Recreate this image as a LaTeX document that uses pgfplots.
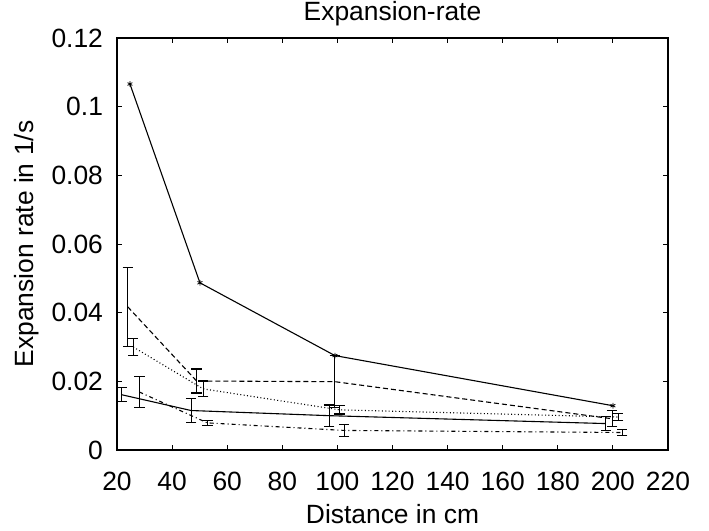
\documentclass[border=0pt]{standalone}
\usepackage{fontspec}
\setmainfont{Liberation Sans}
\usepackage{pgfplots}
\pgfplotsset{compat=1.18}
\begin{document}
\begin{tikzpicture}
\begin{axis}[
  scale only axis,
  width=275.5pt, height=206pt,
  xmin=20, xmax=220, ymin=0, ymax=0.12,
  xtick={20,40,...,220},
  ytick={0,0.02,0.04,0.06,0.08,0.1,0.12},
  yticklabels={0,0.02,0.04,0.06,0.08,0.1,0.12},
  scaled y ticks=false,
  /pgf/number format/assume math mode=true,
  font=\fontsize{13.2}{15}\selectfont,
  tick align=inside, xtick pos=both, ytick pos=both,
  major tick length=2.5pt,
  tick style={black, line width=0.5pt},
  axis line style={black, line width=0.6pt},
  xticklabel style={anchor=center, yshift=-15.5pt},
  yticklabel style={anchor=east, xshift=-3.5pt},
  title={Expansion-rate},
  title style={at={(axis description cs:0.5,1)}, anchor=center, inner sep=0pt, yshift=6pt},
  xlabel={Distance in cm},
  xlabel style={at={(axis description cs:0.5,0)}, anchor=center, inner sep=0pt, yshift=-32pt},
  ylabel={Expansion rate in 1/s},
  ylabel style={at={(axis description cs:0,0.5)}, anchor=center, inner sep=0pt, yshift=45pt},
  every axis plot/.append style={black, line width=0.55pt},
  error bars/error bar style={solid, line width=0.55pt},
  error bars/error mark options={solid, rotate=90, mark size=2.6pt, line width=0.55pt},
]
% top solid series with star marks
\addplot[solid, mark=asterisk, mark size=1.4pt, mark options={solid, line width=0.4pt}] coordinates {
  (24.7,0.1066) (50.1,0.0487) (99.1,0.0275) (200,0.0129)};
% dashed series
\addplot[dash pattern=on 2.5pt off 1.5pt, mark=none,
  error bars/.cd, y dir=both, y explicit] coordinates {
  (23.9,0.0417) +- (0,0.0115)
  (48.9,0.0201) +- (0,0.0035)
  (99.1,0.0199) +- (0,0.0075)
  (199.7,0.0091) +- (0,0.0023)};
% dotted series
\addplot[dash pattern=on 0.5pt off 1.2pt, mark=none,
  error bars/.cd, y dir=both, y explicit] coordinates {
  (25.9,0.0300) +- (0,0.0024)
  (51.3,0.0178) +- (0,0.0023)
  (100.7,0.0117) +- (0,0.0012)
  (201.9,0.0096) +- (0,0.0011)};
% lower solid series
\addplot[solid, mark=none,
  error bars/.cd, y dir=both, y explicit] coordinates {
  (21.7,0.0161) +- (0,0.0021)
  (46.9,0.0115) +- (0,0.0034)
  (97.0,0.0100) +- (0,0.0031)
  (197.4,0.0077) +- (0,0.0020)};
% dash-dot series
\addplot[dash pattern=on 2pt off 1.5pt on 0.5pt off 1.5pt, mark=none,
  error bars/.cd, y dir=both, y explicit] coordinates {
  (28.1,0.0169) +- (0,0.0045)
  (52.8,0.0079) +- (0,0.0008)
  (102.5,0.0057) +- (0,0.0018)
  (203.4,0.0051) +- (0,0.0010)};
\end{axis}
\path ([xshift=-58.5pt,yshift=-40pt]current axis.south west) rectangle ([xshift=20.5pt,yshift=19pt]current axis.north east);
\end{tikzpicture}
\end{document}
